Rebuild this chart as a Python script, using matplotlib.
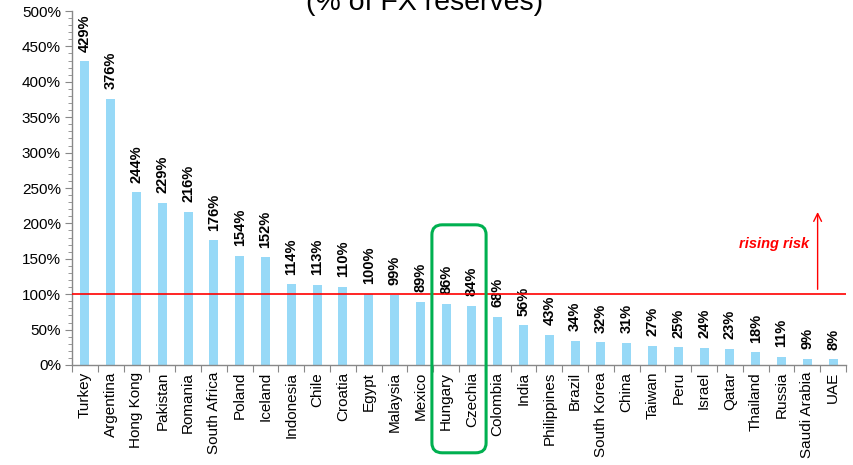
import matplotlib
matplotlib.use("Agg")
import matplotlib.pyplot as plt
from matplotlib.patches import FancyBboxPatch
from matplotlib.ticker import MultipleLocator, FuncFormatter

plt.rcParams['font.family'] = ['Liberation Sans', 'DejaVu Sans']

countries = ["Turkey", "Argentina", "Hong Kong", "Pakistan", "Romania", "South Africa",
             "Poland", "Iceland", "Indonesia", "Chile", "Croatia", "Egypt", "Malaysia",
             "Mexico", "Hungary", "Czechia", "Colombia", "India", "Philippines", "Brazil",
             "South Korea", "China", "Taiwan", "Peru", "Israel", "Qatar", "Thailand",
             "Russia", "Saudi Arabia", "UAE"]
values = [429, 376, 244, 229, 216, 176, 154, 152, 114, 113, 110, 100, 99, 89, 86, 84,
          68, 56, 43, 34, 32, 31, 27, 25, 24, 23, 18, 11, 9, 8]
threshold = 100
highlight = ["Hungary", "Czechia"]

fig = plt.figure(figsize=(8.54, 4.65), dpi=100)
ax = fig.add_axes([72 / 854, 1 - 365 / 465, (846 - 72) / 854, (365 - 11) / 465])

x = list(range(len(countries)))
ax.bar(x, values, width=0.35, color="#97D9F7", zorder=2)

for xi, v in zip(x, values):
    ax.annotate(f"{v}%", (xi, v), xytext=(0, 7), textcoords="offset points",
                rotation=90, ha="center", va="bottom", fontsize=10.5,
                fontweight="bold", color="black")

ax.set_xlim(-0.5, len(countries) - 0.5)
ax.set_ylim(0, 500)
ax.yaxis.set_major_locator(MultipleLocator(50))
ax.yaxis.set_minor_locator(MultipleLocator(10))
ax.yaxis.set_major_formatter(FuncFormatter(lambda v, p: f"{v:.0f}%"))

ax.set_xticks([i + 0.5 for i in range(-1, len(countries))], minor=False)
ax.set_xticklabels([])
ax.set_xticks(x, minor=True)
ax.set_xticklabels(countries, minor=True, rotation=90, fontsize=11)
ax.tick_params(axis="x", which="minor", length=0, pad=5)
ax.tick_params(axis="x", which="major", length=5, color="#888888", direction="out")
ax.tick_params(axis="y", which="major", length=5, color="#888888", labelsize=11, pad=3)
ax.tick_params(axis="y", which="minor", length=3, color="#888888")

for s in ["top", "right"]:
    ax.spines[s].set_visible(False)
for s in ["left", "bottom"]:
    ax.spines[s].set_color("#888888")
    ax.spines[s].set_linewidth(1.0)

# Threshold line and risk arrow
ax.axhline(threshold, color="#FF0000", linewidth=1.2, zorder=3)
ax.annotate("", xy=(28.4, 220), xytext=(28.4, 103),
            arrowprops=dict(arrowstyle="->", color="#FF0000", lw=1.0,
                            mutation_scale=14))
ax.text(28.07, 171, "rising risk", color="#FF0000", fontsize=10.5,
        fontweight="bold", style="italic", ha="right", va="center")

# Highlight box around selected countries
i0 = countries.index(highlight[0])
i1 = countries.index(highlight[-1])
box = FancyBboxPatch((i0 - 0.55, -124), (i1 - i0) + 1.1, 322,
                     boxstyle="round,pad=0,rounding_size=0.4",
                     mutation_aspect=35,
                     fill=False, edgecolor="#00B050", linewidth=2.2,
                     clip_on=False, zorder=4)
ax.add_patch(box)

fig.text(425 / 854, 1 - 10 / 465, "(% of FX reserves)", ha="center",
         va="baseline", fontsize=20.5, color="black")

fig.savefig("out.png", dpi=100)
